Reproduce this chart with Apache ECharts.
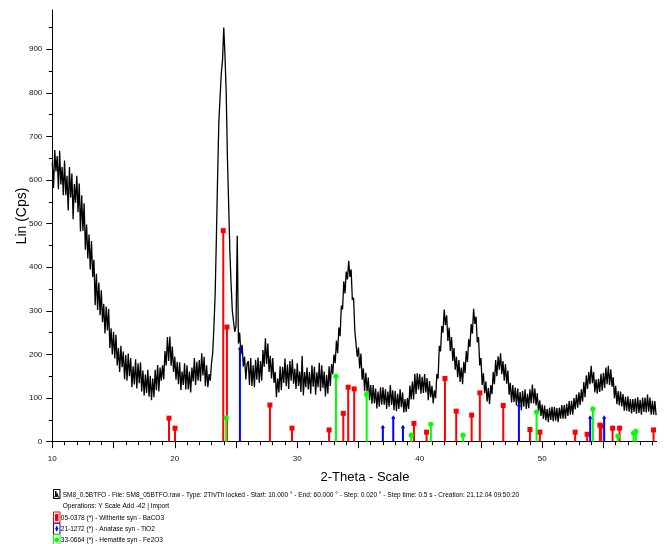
<!DOCTYPE html>
<html>
<head>
<meta charset="utf-8">
<script src="https://cdn.jsdelivr.net/npm/echarts@6/dist/echarts.min.js"></script>
<style>
  html, body { margin: 0; padding: 0; background: #fff; }
  #chart { width: 667px; height: 544px; }
</style>
</head>
<body>
<div id="chart"></div>
<script>
// scan: 2-theta from 10.0, every 0.1 deg
const thetaStart = 10.0
const thetaStep = 0.1
const counts = [
  640, 582, 669, 620, 655, 579, 667, 590, 630, 565, // 10
  645, 565, 610, 530, 630, 560, 615, 510, 591, 548, // 11
  610, 526, 592, 482, 565, 483, 547, 440, 498, 420, // 12
  475, 395, 460, 378, 417, 313, 385, 302, 365, 290, // 13
  347, 274, 316, 248, 310, 255, 305, 215, 260, 200, // 14
  252, 191, 245, 175, 215, 160, 220, 171, 207, 143, // 15
  199, 140, 202, 150, 192, 125, 173, 131, 189, 122, // 16
  180, 134, 182, 115, 163, 106, 154, 112, 165, 103, // 17
  151, 95, 145, 102, 165, 118, 176, 115, 170, 140,  // 18
  175, 143, 208, 175, 240, 185, 241, 174, 218, 160, // 19
  195, 142, 183, 132, 182, 118, 161, 130, 180, 120, // 20
  175, 120, 161, 113, 170, 138, 192, 130, 183, 140, // 21
  187, 138, 203, 152, 195, 127, 175, 125, 155, 140, // 22
  180, 205, 265, 340, 470, 610, 735, 790, 845, 875, // 23
  950, 885, 800, 650, 545, 435, 360, 300, 275, 252, // 24
  265, 472, 225, 250, 200, 222, 172, 195, 143, 178, // 25
  185, 130, 192, 128, 175, 125, 188, 142, 193, 135, // 26
  185, 140, 210, 172, 237, 178, 225, 160, 197, 145, // 27
  192, 135, 160, 102, 145, 113, 173, 118, 172, 135, // 28
  191, 127, 177, 121, 185, 140, 189, 133, 167, 121, // 29
  180, 128, 161, 114, 197, 106, 160, 125, 170, 120, // 30
  160, 110, 175, 126, 172, 108, 159, 125, 181, 116, // 31
  175, 123, 161, 104, 153, 110, 173, 128, 178, 155, // 32
  200, 180, 232, 203, 262, 242, 312, 303, 368, 340, // 33
  390, 372, 415, 378, 395, 325, 330, 255, 258, 195, // 34
  216, 168, 202, 142, 168, 116, 158, 115, 147, 95,  // 35
  130, 87, 130, 88, 122, 76, 115, 80, 125, 85,      // 36
  125, 85, 120, 75, 115, 80, 130, 84, 118, 72,      // 37
  116, 70, 110, 75, 120, 79, 113, 67, 98, 68,       // 38
  100, 75, 129, 97, 138, 97, 156, 109, 157, 119,    // 39
  155, 110, 149, 112, 155, 113, 146, 95, 139, 102,  // 40
  128, 88, 118, 100, 155, 145, 220, 207, 265, 250,  // 41
  303, 267, 290, 231, 262, 208, 240, 185, 215, 165, // 42
  195, 148, 187, 137, 170, 132, 183, 157, 208, 183, // 43
  235, 217, 270, 248, 305, 270, 287, 228, 240, 175, // 44
  192, 130, 157, 111, 138, 92, 123, 86, 130, 109,   // 45
  160, 132, 187, 150, 196, 165, 203, 155, 185, 140, // 46
  178, 133, 163, 108, 135, 90, 130, 91, 124, 83,    // 47
  122, 80, 114, 72, 116, 80, 120, 75, 110, 77,      // 48
  120, 88, 131, 88, 122, 83, 111, 68, 95, 59,       // 49
  85, 52, 83, 49, 75, 45, 78, 50, 80, 47,           // 50
  80, 48, 77, 45, 78, 53, 84, 53, 84, 53,           // 51
  87, 59, 93, 62, 94, 62, 100, 74, 108, 78,         // 52
  113, 84, 120, 92, 137, 102, 152, 121, 160, 132,   // 53
  174, 134, 160, 113, 143, 110, 144, 114, 156, 117, // 54
  158, 123, 170, 132, 174, 130, 166, 126, 148, 100, // 55
  128, 86, 116, 83, 115, 81, 109, 71, 103, 71,      // 56
  104, 69, 98, 65, 98, 68, 99, 64, 102, 66,         // 57
  96, 62, 101, 68, 101, 67, 108, 69, 101, 62,       // 58
  94, 62, 93, 61                                    // 59
]

// reference patterns [2-theta, height]
const witherite = [
  [19.53, 54], [20.02, 31], [23.96, 484], [24.26, 263], [27.77, 84], [29.57, 31],
  [32.6, 27], [33.76, 65], [34.16, 125], [34.65, 121], [39.53, 42], [40.56, 22],
  [42.06, 145], [42.98, 70], [44.24, 61], [44.91, 112], [46.82, 83], [49.0, 28],
  [49.81, 22], [52.69, 22], [53.67, 17], [54.71, 38], [54.82, 36], [55.75, 31],
  [56.32, 31], [59.09, 27]
]
const anatase = [
  [25.32, 212], [36.99, 32], [37.84, 54], [38.63, 32], [48.1, 82], [53.92, 54], [55.06, 54]
]
const hematite = [
  [24.2, 55], [33.16, 150], [35.67, 109], [39.31, 15], [40.91, 40], [43.53, 15],
  [49.54, 68], [54.14, 75], [56.18, 13], [57.46, 20], [57.65, 24]
]

const xMajorTicks = [10, 15, 20, 25, 30, 35, 40, 45, 50, 55]
const xMinorTicks = [11, 12, 13, 14, 16, 17, 18, 19, 21, 22, 23, 24, 26, 27, 28, 29,
  31, 32, 33, 34, 36, 37, 38, 39, 41, 42, 43, 44, 46, 47, 48, 49, 51, 52, 53, 54,
  56, 57, 58, 59]
const xTickLabels = [10, 20, 30, 40, 50]
const yMajorTicks = [0, 100, 200, 300, 400, 500, 600, 700, 800, 900]
const yMinorTicks = [50, 150, 250, 350, 450, 550, 650, 750, 850, 950]

const legendLines = [
  'SM8_0.5BTFO - File: SM8_05BTFO.raw - Type: 2Th/Th locked - Start: 10.000 ° - End: 60.000 ° - Step: 0.020 ° - Step time: 0.5 s - Creation: 21.12.04 09:50:20',
  'Operations: Y Scale Add -42 | Import',
  '05-0378 (*) - Witherite syn - BaCO3',
  '21-1272 (*) - Anatase syn - TiO2',
  '33-0664 (*) - Hematite syn - Fe2O3'
]

const chart = echarts.init(document.getElementById('chart'))
const scan = counts.map((v, i) => [+(thetaStart + i * thetaStep).toFixed(2), v])
const labelFont = '"Liberation Sans Narrow", "Liberation Sans", Arial, sans-serif'

function stickSeries(name, data, color, marker) {
  return {
    type: 'custom',
    name: name,
    data: data,
    z: 5,
    renderItem: function (params, api) {
      const top = api.coord([api.value(0), api.value(1)])
      const base = api.coord([api.value(0), 0])
      const kids = [{
        type: 'line',
        shape: { x1: top[0], y1: top[1], x2: base[0], y2: base[1] },
        style: { stroke: color, lineWidth: 2 }
      }]
      if (marker === 'square') {
        kids.push({ type: 'rect', shape: { x: top[0] - 2.5, y: top[1] - 2.5, width: 5, height: 5 }, style: { fill: color } })
      } else if (marker === 'circle') {
        kids.push({ type: 'circle', shape: { cx: top[0], cy: top[1], r: 2.6 }, style: { fill: color } })
      } else {
        kids.push({ type: 'polygon', shape: { points: [[top[0], top[1] - 3], [top[0] + 2, top[1]], [top[0], top[1] + 1.5], [top[0] - 2, top[1]]] }, style: { fill: color } })
      }
      return { type: 'group', children: kids }
    }
  }
}

const axisLineStyle = { color: '#000', width: 1 }

function legendIcon(y, color, marker) {
  const kids = [{
    type: 'rect', shape: { x: 53.5, y: y - 5.5, width: 6.5, height: 11 },
    style: { fill: '#fff', stroke: color, lineWidth: 1 }
  }]
  if (marker === 'square') kids.push({ type: 'rect', shape: { x: 55, y: y - 3.5, width: 3.5, height: 7 }, style: { fill: color } })
  if (marker === 'diamond') kids.push({ type: 'polygon', shape: { points: [[56.75, y - 3.5], [58.3, y], [56.75, y + 3], [55.2, y]] }, style: { fill: color } })
  if (marker === 'circle') kids.push({ type: 'circle', shape: { cx: 56.75, cy: y, r: 2.4 }, style: { fill: color } })
  return { type: 'group', children: kids }
}

const legendY = [494.5, 506, 517.5, 528.8, 540]
const legendX = [62.7, 62.7, 60.8, 60.8, 60.8]

const graphics = [
  {
    type: 'text', x: 22, y: 216, rotation: Math.PI / 2,
    style: { text: 'Lin (Cps)', font: '14px "Liberation Sans", Arial, sans-serif', fill: '#000', align: 'center', verticalAlign: 'middle' }
  },
  {
    type: 'text', x: 365, y: 477,
    style: { text: '2-Theta - Scale', font: '13px "Liberation Sans", Arial, sans-serif', fill: '#000', align: 'center', verticalAlign: 'middle' }
  },
  // scan icon
  {
    type: 'group', children: [
      { type: 'rect', shape: { x: 53.5, y: 489.5, width: 6.5, height: 9 }, style: { fill: '#fff', stroke: '#000', lineWidth: 1 } },
      { type: 'polyline', shape: { points: [[54.3, 497], [55.3, 497], [55.8, 491], [56.5, 497], [57.3, 493.5], [58, 497], [59.3, 497]] }, style: { stroke: '#000', lineWidth: 1, fill: null } }
    ]
  },
  legendIcon(517.5, '#ff0000', 'square'),
  legendIcon(528.8, '#0000ff', 'diamond'),
  legendIcon(540, '#00ff00', 'circle')
]
legendLines.forEach((t, i) => {
  graphics.push({
    type: 'text', x: legendX[i], y: legendY[i], scaleX: 0.815,
    style: { text: t, font: '8px "Liberation Sans", Arial, sans-serif', fill: '#000', align: 'left', verticalAlign: 'middle' }
  })
})

chart.setOption({
  animation: false,
  backgroundColor: '#fff',
  grid: { left: 52.3, right: 10.3, top: 10, bottom: 102.3, containLabel: false },
  xAxis: [
    {
      type: 'value', min: 10, max: 59.35,
      axisLine: { show: true, lineStyle: axisLineStyle },
      axisTick: { show: true, length: 3.5, lineStyle: axisLineStyle, customValues: xMinorTicks },
      axisLabel: { show: true, customValues: xTickLabels, margin: 13, fontSize: 8, fontFamily: labelFont, color: '#111' },
      splitLine: { show: false }
    },
    {
      type: 'value', min: 10, max: 59.35, position: 'bottom',
      axisLine: { show: false },
      axisTick: { show: true, length: 6.5, lineStyle: axisLineStyle, customValues: xMajorTicks },
      axisLabel: { show: false },
      splitLine: { show: false }
    }
  ],
  yAxis: [
    {
      type: 'value', min: 0, max: 990,
      axisLine: { show: true, lineStyle: axisLineStyle },
      axisTick: { show: true, length: 3.5, lineStyle: axisLineStyle, customValues: yMinorTicks },
      axisLabel: { show: true, customValues: yMajorTicks, margin: 10, fontSize: 8, fontFamily: labelFont, color: '#111' },
      splitLine: { show: false }
    },
    {
      type: 'value', min: 0, max: 990, position: 'left',
      axisLine: { show: false },
      axisTick: { show: true, length: 6, lineStyle: axisLineStyle, customValues: yMajorTicks },
      axisLabel: { show: false },
      splitLine: { show: false }
    }
  ],
  graphic: graphics,
  series: [
    {
      type: 'line', data: scan, showSymbol: false, symbol: 'none', sampling: null,
      lineStyle: { color: '#000', width: 1.3 }, z: 3
    },
    stickSeries('Witherite', witherite, '#ff0000', 'square'),
    stickSeries('Anatase', anatase, '#0000ff', 'diamond'),
    stickSeries('Hematite', hematite, '#00ff00', 'circle')
  ]
})
</script>
</body>
</html>
